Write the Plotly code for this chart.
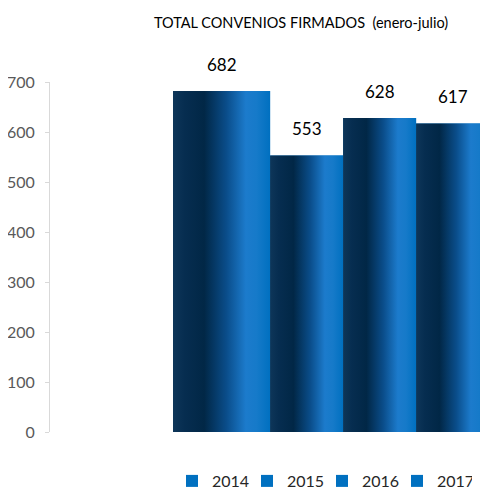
import plotly.graph_objects as go

# ---- data ----
years = ["2014", "2015", "2016", "2017"]
values = [682, 553, 628, 617]
y_ticks = [0, 100, 200, 300, 400, 500, 600, 700]
title_text = "TOTAL CONVENIOS FIRMADOS  (enero-julio)"

# ---- layout constants (relative bar widths, axis units) ----
bar_widths = [1.33, 1.0, 1.0, 1.0]
bar_start = 1.685
x_range = [0, 6]

# page body has an 8px margin; figure sized to fill the rest of the window
W, H = 480, 483

FONT = "Lato, Open Sans, sans-serif"
BLUE = "#0070c0"
gradient = [
    [0.0, "#0e3659"],
    [0.12, "#062d50"],
    [0.32, "#012746"],
    [0.55, "#0a4d8a"],
    [0.75, "#1c7bcc"],
    [0.86, "#167ac9"],
    [1.0, "#0070c0"],
]

fig = go.Figure()

lefts = []
pos = bar_start
for w in bar_widths:
    lefts.append(pos)
    pos += w
centers = [l + w / 2 for l, w in zip(lefts, bar_widths)]

# real bars (legend + base colour)
for yr, v, c, w in zip(years, values, centers, bar_widths):
    fig.add_trace(go.Bar(
        x=[c], y=[v], width=[w], name=yr,
        marker=dict(color=BLUE, line=dict(width=0)),
        hoverinfo="skip",
    ))

# gradient overlay for each bar
for yr, v, l, w in zip(years, values, lefts, bar_widths):
    fig.add_trace(go.Scatter(
        x=[l, l, l + w, l + w, l], y=[0, v, v, 0, 0],
        mode="lines", line=dict(width=0),
        fill="toself",
        fillgradient=dict(type="horizontal", colorscale=gradient),
        showlegend=False, hoverinfo="skip",
    ))

annotations = []
for v, c in zip(values, centers):
    annotations.append(dict(
        x=c, y=v, xref="x", yref="y", text=str(v), showarrow=False,
        yanchor="middle", yshift=27,
        font=dict(family=FONT, size=17, color="#000000"),
    ))

fig.update_layout(
    width=W, height=H,
    margin=dict(l=42, r=0, t=74, b=59, autoexpand=False),
    paper_bgcolor="white", plot_bgcolor="white",
    barmode="overlay",
    title=dict(
        text=title_text, xref="container", x=293 / W, xanchor="center",
        yref="container", y=1 - 15 / H, yanchor="middle",
        font=dict(family=FONT, size=14.5, color="#000000"),
    ),
    xaxis=dict(visible=False, range=x_range, fixedrange=True),
    yaxis=dict(
        range=[0, 700], tickvals=y_ticks, ticktext=[str(t) for t in y_ticks],
        showgrid=False, zeroline=False,
        showline=True, linecolor="#d9d9d9", linewidth=1,
        ticks="outside", ticklen=4, tickcolor="#d9d9d9",
        ticklabelstandoff=7,
        tickfont=dict(family=FONT, size=16, color="#595959"),
    ),
    legend=dict(
        orientation="h", xref="container", yref="container",
        x=164 / W, xanchor="left", y=1 - 473 / H, yanchor="middle",
        itemwidth=30, entrywidth=30, entrywidthmode="pixels",
        font=dict(family=FONT, size=16, color="#262626"),
        traceorder="normal", bgcolor="rgba(0,0,0,0)",
    ),
    annotations=annotations,
    showlegend=True,
)

fig.write_html("out.html")
